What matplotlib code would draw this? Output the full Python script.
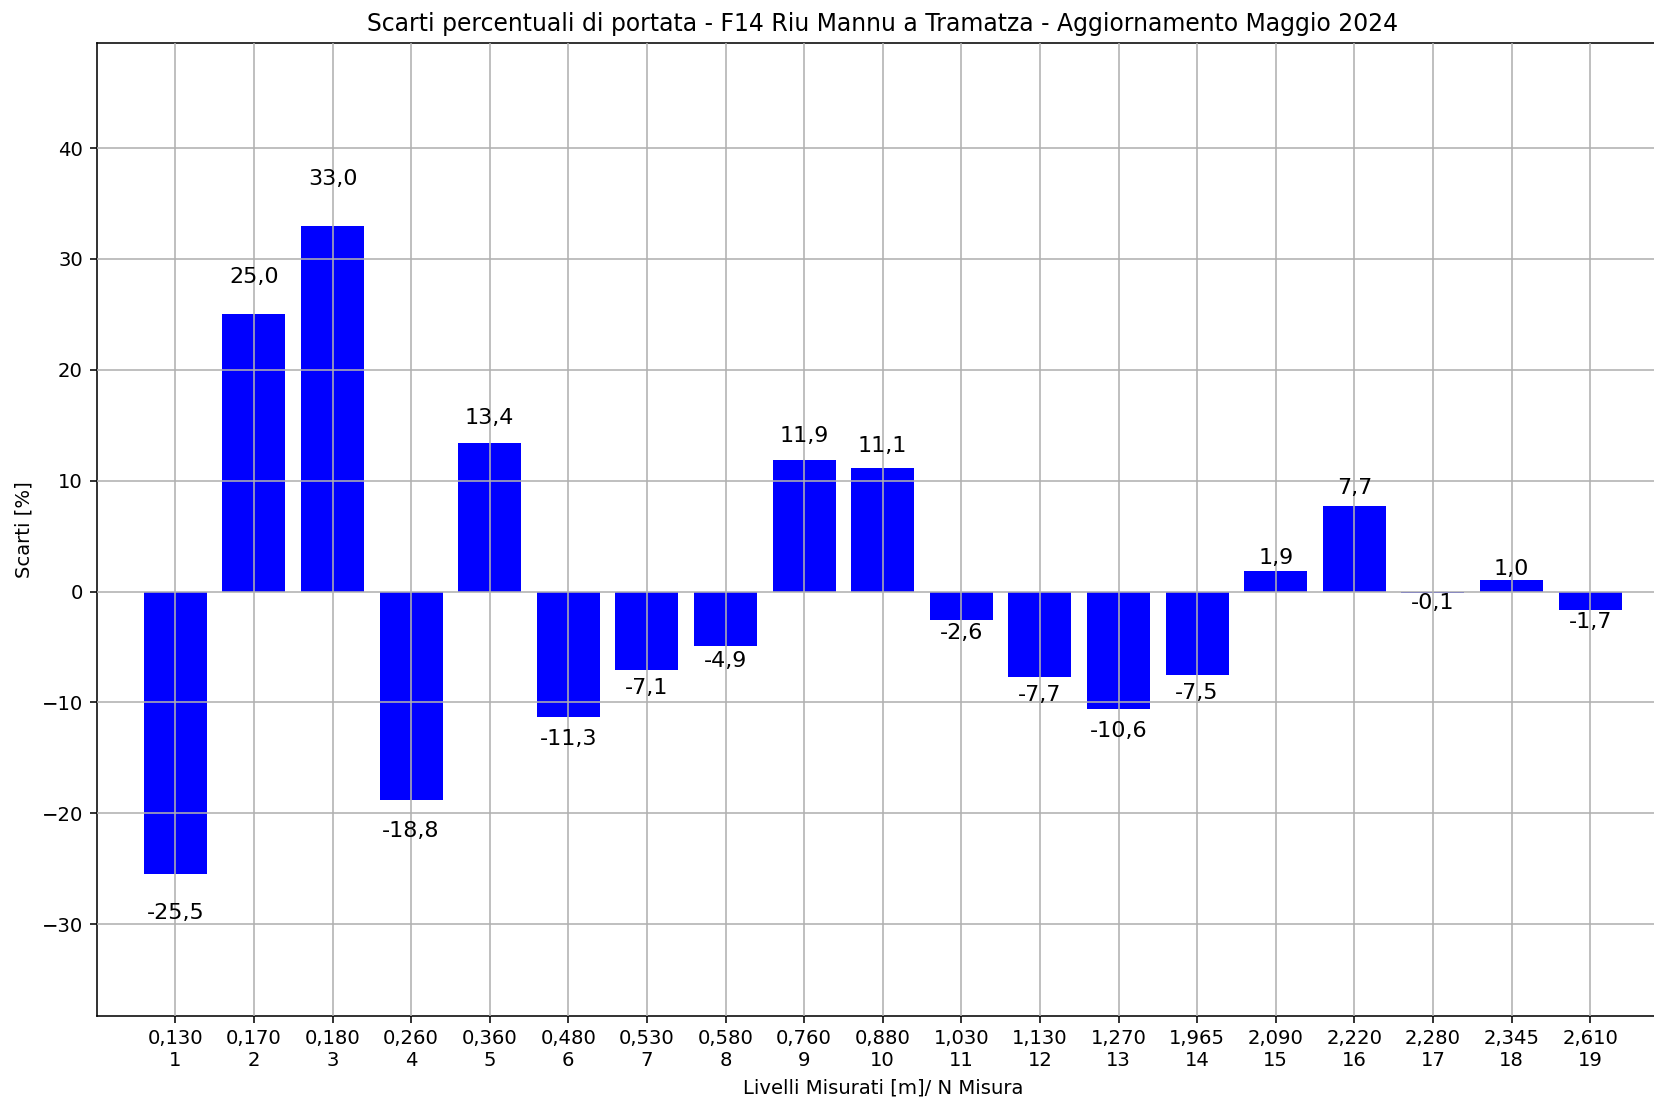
import matplotlib
matplotlib.use("Agg")
import matplotlib.pyplot as plt

levels = ["0,130", "0,170", "0,180", "0,260", "0,360", "0,480", "0,530", "0,580",
          "0,760", "0,880", "1,030", "1,130", "1,270", "1,965", "2,090", "2,220",
          "2,280", "2,345", "2,610"]
numbers = list(range(1, 20))
scarti = [-25.5, 25.0, 33.0, -18.8, 13.4, -11.3, -7.1, -4.9, 11.9, 11.1,
          -2.6, -7.7, -10.6, -7.5, 1.9, 7.7, -0.1, 1.0, -1.7]

DPI = 141
fig = plt.figure(figsize=(1654 / DPI, 1099 / DPI), dpi=DPI)
W, H = 1654, 1099
left, right_px = 96.7, 96.7 + 20 * 78.6
top, bottom = 42.7, 1015.7
ax = fig.add_axes([left / W, 1 - bottom / H, (right_px - left) / W, (bottom - top) / H])

x = list(range(len(scarti)))
ax.bar(x, scarti, width=0.8, color="blue")
ax.grid(True, color="#b0b0b0", linewidth=0.8)
ax.set_axisbelow(False)

for xi, v in zip(x, scarti):
    txt = f"{v:.1f}".replace(".", ",")
    ax.text(xi, v * 1.1, txt, ha="center", va="bottom" if v >= 0 else "top", fontsize=11.4)

ax.set_xticks(x)
ax.set_xticklabels([f"{l}\n{n}" for l, n in zip(levels, numbers)])
ax.set_xlim(-1, 19)
ax.set_ylim(min(scarti) * 1.5, max(scarti) * 1.5)
ax.set_xlabel("Livelli Misurati [m]/ N Misura")
ax.set_ylabel("Scarti [%]")
ax.set_title("Scarti percentuali di portata - F14 Riu Mannu a Tramatza - Aggiornamento Maggio 2024", fontsize=12)

fig.savefig("out.png", dpi=DPI)
